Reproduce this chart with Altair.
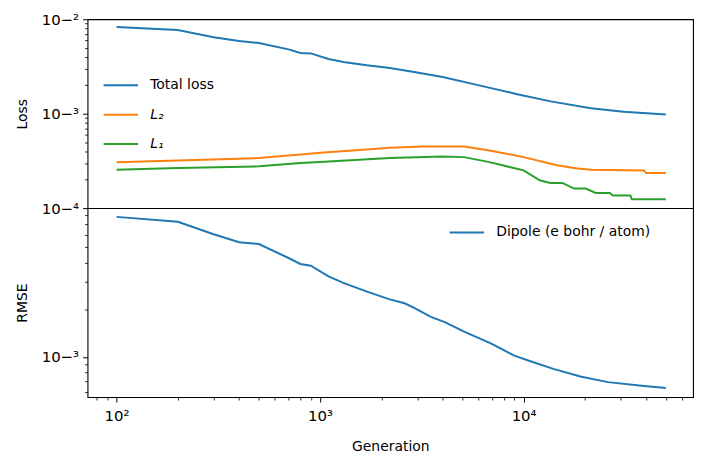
import altair as alt
import pandas as pd

# ---- data ----
total_gen = [100, 200, 300, 400, 500, 700, 800, 900, 1100, 1300, 1700, 2200, 2900, 4000,
             5900, 9300, 13600, 21400, 31000, 50000]
total_val = [8.3e-3, 7.7e-3, 6.45e-3, 5.9e-3, 5.6e-3, 4.8e-3, 4.4e-3, 4.35e-3, 3.8e-3, 3.52e-3,
             3.25e-3, 3.05e-3, 2.77e-3, 2.45e-3, 2.02e-3, 1.61e-3, 1.35e-3, 1.14e-3, 1.05e-3, 9.8e-4]

l2_gen = [100, 200, 500, 800, 1000, 1500, 2200, 3200, 5100, 6800, 10000, 14600, 18000, 21400,
          39000, 40000, 50000]
l2_val = [3.07e-4, 3.2e-4, 3.39e-4, 3.7e-4, 3.85e-4, 4.1e-4, 4.35e-4, 4.5e-4, 4.5e-4, 4.08e-4,
          3.47e-4, 2.84e-4, 2.65e-4, 2.55e-4, 2.5e-4, 2.35e-4, 2.35e-4]

l1_gen = [100, 200, 500, 800, 1000, 2200, 4000, 5100, 6800, 10000, 12000, 13500, 15500, 17700,
          20200, 22600, 26500, 27500, 33500, 34000, 50000]
l1_val = [2.55e-4, 2.66e-4, 2.77e-4, 3.0e-4, 3.08e-4, 3.39e-4, 3.52e-4, 3.47e-4, 3.07e-4, 2.51e-4,
          1.97e-4, 1.85e-4, 1.85e-4, 1.61e-4, 1.61e-4, 1.45e-4, 1.45e-4, 1.36e-4, 1.36e-4, 1.24e-4,
          1.24e-4]

dip_gen = [100, 200, 300, 400, 500, 700, 800, 900, 1100, 1300, 1700, 2200, 2600, 2900, 3500, 4100,
           5100, 6900, 9000, 10800, 14000, 19000, 26000, 38000, 50000]
dip_val = [7.83e-3, 7.29e-3, 6.07e-3, 5.40e-3, 5.25e-3, 4.28e-3, 3.92e-3, 3.82e-3, 3.27e-3, 2.97e-3,
           2.61e-3, 2.33e-3, 2.20e-3, 2.06e-3, 1.80e-3, 1.67e-3, 1.45e-3, 1.22e-3, 1.02e-3, 9.39e-4,
           8.40e-4, 7.50e-4, 6.91e-4, 6.55e-4, 6.34e-4]

series_top = ["Total loss", "L₂", "L₁"]
series_bottom = ["Dipole (e bohr / atom)"]
colors_top = ["#1f77b4", "#ff7f0e", "#2ca02c"]
colors_bottom = ["#1f77b4"]

x_domain = [72, 68000]
y_top_domain = [1e-4, 1e-2]
y_bot_domain = [5.55e-4, 8.9e-3]

x_major = [100, 1000, 10000]
x_minor = [80, 90] + [k * 100 for k in range(2, 10)] + [k * 1000 for k in range(2, 10)] + \
          [k * 10000 for k in range(2, 7)]
y_top_major = [1e-4, 1e-3, 1e-2]
y_top_minor = [k * 1e-4 for k in range(2, 10)] + [k * 1e-3 for k in range(2, 10)]
y_bot_major = [1e-3]
y_bot_minor = [6e-4, 7e-4, 8e-4, 9e-4] + [k * 1e-3 for k in range(2, 9)]

# ---- tables ----
top_df = pd.concat([
    pd.DataFrame({"series": series_top[0], "gen": total_gen, "value": total_val}),
    pd.DataFrame({"series": series_top[1], "gen": l2_gen, "value": l2_val}),
    pd.DataFrame({"series": series_top[2], "gen": l1_gen, "value": l1_val}),
], ignore_index=True)
bot_df = pd.DataFrame({"series": series_bottom[0], "gen": dip_gen, "value": dip_val})

FONT = "DejaVu Sans"
W, H = 609, 190

pow_expr = ("'10' + replace(replace(replace(replace(replace(format(log(datum.value)/log(10), '.0f'),"
            " '-', '⁻'), '1', '¹'), '2', '²'), '3', '³'), '4', '⁴')")

xs = alt.Scale(type="log", domain=x_domain, nice=False)


def major_axis(values, title, orient, label_pad=4, title_pad=12):
    return alt.Axis(values=values, title=title, orient=orient, grid=False, domain=False,
                    labelExpr=pow_expr, labelFont=FONT, labelFontSize=15, labelColor="black",
                    labelPadding=label_pad, tickSize=5, tickColor="black", tickWidth=1,
                    titleFont=FONT, titleFontSize=14, titleFontWeight="normal", titleColor="black",
                    titlePadding=title_pad, labelFlush=False, labelOverlap=False)


def minor_axis(values, orient):
    return alt.Axis(values=values, title=None, orient=orient, grid=False, domain=False,
                    labels=False, tickSize=3, tickColor="black", tickWidth=0.8)


legend_common = dict(orient="none", title=None, symbolType="stroke", symbolSize=1200,
                     symbolStrokeWidth=2, labelFont=FONT, labelFontSize=14, labelColor="black",
                     labelOffset=11, rowPadding=3.5)

top_lines = alt.Chart(top_df).mark_line(strokeWidth=2).encode(
    x=alt.X("gen:Q", scale=xs, axis=None),
    y=alt.Y("value:Q", scale=alt.Scale(type="log", domain=y_top_domain, nice=False),
            axis=major_axis(y_top_major, "Loss", "left")),
    color=alt.Color("series:N", sort=series_top,
                    scale=alt.Scale(domain=series_top, range=colors_top),
                    legend=alt.Legend(legendX=15, legendY=48, **legend_common,
                                      labelFontStyle=alt.ExprRef(
                                          "datum.label == 'Total loss' ? 'normal' : 'italic'"))),
    detail="series:N",
    order="gen:Q",
)
top_minor = alt.Chart(top_df).mark_point(opacity=0).encode(
    x=alt.X("gen:Q", scale=xs, axis=None),
    y=alt.Y("value:Q", axis=minor_axis(y_top_minor, "left")),
)
top = alt.layer(top_lines, top_minor).resolve_axis(y="independent").properties(width=W, height=H)

bot_lines = alt.Chart(bot_df).mark_line(strokeWidth=2).encode(
    x=alt.X("gen:Q", scale=xs, axis=major_axis(x_major, "Generation", "bottom",
                                               label_pad=7, title_pad=16)),
    y=alt.Y("value:Q", scale=alt.Scale(type="log", domain=y_bot_domain, nice=False),
            axis=major_axis(y_bot_major, "RMSE", "left")),
    color=alt.Color("series:N", scale=alt.Scale(domain=series_bottom, range=colors_bottom),
                    legend=alt.Legend(legendX=363, legendY=6, **legend_common)),
    order="gen:Q",
)
bot_minor = alt.Chart(bot_df).mark_point(opacity=0).encode(
    x=alt.X("gen:Q", axis=minor_axis(x_minor, "bottom")),
    y=alt.Y("value:Q", axis=minor_axis(y_bot_minor, "left")),
)
bot = alt.layer(bot_lines, bot_minor).resolve_axis(x="independent", y="independent").properties(
    width=W, height=H)

chart = alt.vconcat(top, bot, spacing=0, bounds="flush").resolve_scale(
    color="independent"
).configure(
    background="white",
    padding={"left": 6, "top": 2, "right": 5, "bottom": 5},
    view=alt.ViewConfig(stroke="black", strokeWidth=1.1),
)

chart.save("out.html", embed_options={"renderer": "svg", "actions": False})
